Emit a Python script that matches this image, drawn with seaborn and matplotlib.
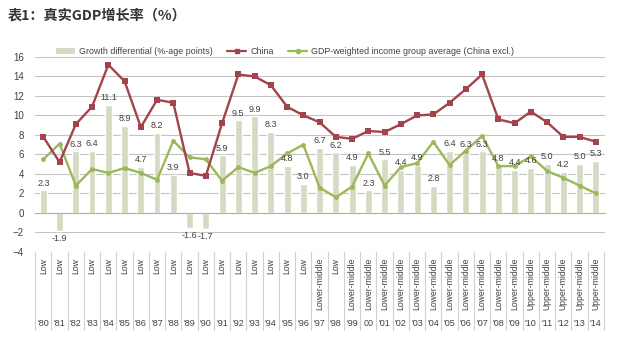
import matplotlib
matplotlib.use("Agg")
import matplotlib.pyplot as plt
import seaborn as sns
import pandas as pd
import numpy as np
from matplotlib.lines import Line2D
from matplotlib.patches import Patch

sns.set_theme(style="white")
plt.rcParams['font.family'] = ['Liberation Sans', 'Noto Sans CJK SC', 'DejaVu Sans']

years = ["'80", "'81", "'82", "'83", "'84", "'85", "'86", "'87", "'88", "'89",
         "'90", "'91", "'92", "'93", "'94", "'95", "'96", "'97", "'98", "'99",
         "00", "'01", "'02", "'03", "'04", "'05", "'06", "'07", "'08", "'09",
         "'10", "'11", "'12", "'13", "'14"]
groups = ["Low"] * 17 + ["Lower-middle", "Low"] + ["Lower-middle"] * 11 + ["Upper-middle"] * 5
differential = [2.3, -1.9, 6.3, 6.4, 11.1, 8.9, 4.7, 8.2, 3.9, -1.6,
                -1.7, 5.9, 9.5, 9.9, 8.3, 4.8, 3.0, 6.7, 6.2, 4.9,
                2.3, 5.5, 4.4, 4.9, 2.8, 6.4, 6.3, 6.3, 4.8, 4.4,
                4.6, 5.0, 4.2, 5.0, 5.3]
china = [7.8, 5.2, 9.1, 10.9, 15.2, 13.5, 8.8, 11.6, 11.3, 4.1,
         3.8, 9.2, 14.2, 14.0, 13.1, 10.9, 10.0, 9.3, 7.8, 7.6,
         8.4, 8.3, 9.1, 10.0, 10.1, 11.3, 12.7, 14.2, 9.6, 9.2,
         10.4, 9.3, 7.8, 7.8, 7.3]
group_avg = [5.5, 7.1, 2.8, 4.5, 4.1, 4.6, 4.1, 3.4, 7.4, 5.7,
             5.5, 3.3, 4.7, 4.1, 4.8, 6.1, 7.0, 2.6, 1.6, 2.7,
             6.1, 2.8, 4.7, 5.1, 7.3, 4.9, 6.4, 7.9, 4.8, 4.8,
             5.8, 4.3, 3.6, 2.8, 2.0]

df = pd.DataFrame({"idx": np.arange(len(years)), "year": years, "group": groups,
                   "diff": differential, "china": china, "avg": group_avg})

BAR_C = "#d6d9c3"
CHINA_C = "#a3434c"
AVG_C = "#9bb85a"
TXT = "#404040"

fig = plt.figure(figsize=(6.4, 3.39), dpi=100)
ax = fig.add_axes([0.055, 0.257, 0.89, 0.575])

sns.barplot(data=df, x="idx", y="diff", color=BAR_C, width=0.42, ax=ax,
            saturation=1, zorder=2)
sns.lineplot(data=df, x="idx", y="china", color=CHINA_C, marker="s",
             markersize=4, markeredgewidth=0, linewidth=1.7, ax=ax, zorder=4)
sns.lineplot(data=df, x="idx", y="avg", color=AVG_C, marker="o",
             markersize=3.5, markeredgewidth=0, linewidth=1.7, ax=ax, zorder=3)

ax.bar_label(ax.containers[0], fmt="%.1f", fontsize=6.5, color=TXT, padding=2)

ax.set_ylim(-4, 16)
ax.set_xlim(-0.5, 34.55)
ax.set_yticks(range(-4, 17, 2))
ax.tick_params(axis="y", labelsize=7, colors=TXT, length=0, pad=8)
ax.yaxis.grid(True, color="#c4c4c4", linewidth=0.8)
ax.set_axisbelow(True)
for s in ["left", "right", "top"]:
    ax.spines[s].set_visible(False)
ax.spines["bottom"].set_position(("data", 0))
ax.spines["bottom"].set_color("#b0b0b0")
ax.spines["bottom"].set_linewidth(0.8)
ax.set_xticks(np.arange(-0.5, len(years), 1))
ax.set_xticklabels([])
ax.tick_params(axis="x", length=3, color="#b0b0b0", direction="out")
ax.set_xlabel("")
ax.set_ylabel("")

# category table beneath the plot
trans = ax.get_xaxis_transform()
for i in range(len(years) + 1):
    ax.plot([i - 0.5, i - 0.5], [0, -0.40], transform=trans, color="#d0d0d0",
            linewidth=0.8, clip_on=False)
for i, (g, y) in enumerate(zip(groups, years)):
    ax.text(i, -0.03, g, transform=trans, rotation=90, ha="center", va="top",
            fontsize=6.2, color=TXT, clip_on=False)
    ax.text(i, -0.365, y, transform=trans, ha="center", va="center",
            fontsize=6.5, color=TXT, clip_on=False)

handles = [Patch(facecolor=BAR_C, edgecolor="none"),
           Line2D([], [], color=CHINA_C, marker="s", markersize=3.5, linewidth=1.6),
           Line2D([], [], color=AVG_C, marker="o", markersize=3, linewidth=1.6)]
labels = ["Growth differential (%-age points)", "China",
          "GDP-weighted income group average (China excl.)"]
ax.legend(handles, labels, loc="lower left", bbox_to_anchor=(0.03, 0.985),
          ncol=3, frameon=False, fontsize=6.4, handlelength=2.2,
          columnspacing=1.6, handletextpad=0.4, borderaxespad=0,
          labelcolor=TXT)

fig.text(0.012, 0.955, "表1：真实GDP增长率（%）", fontsize=10.2, fontweight="bold",
         color="#333333", family=["Noto Sans CJK SC", "DejaVu Sans"], va="center")

fig.savefig("out.png", dpi=100)
